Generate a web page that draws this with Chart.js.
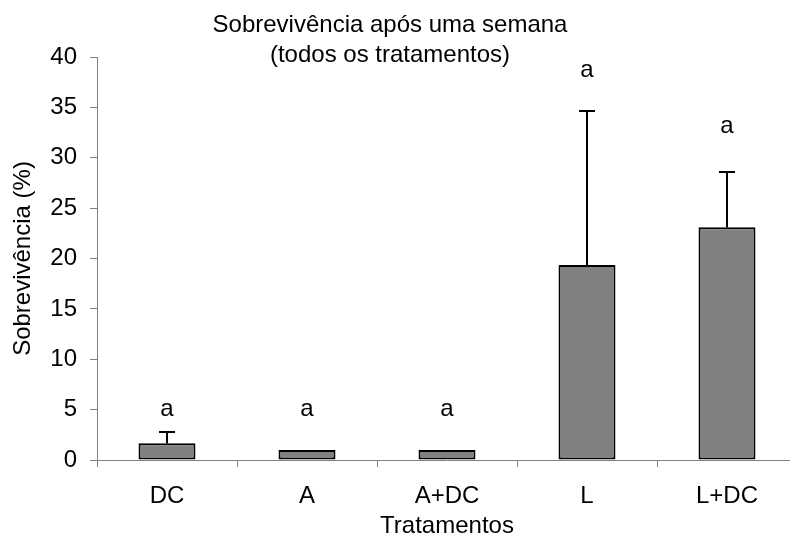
<!DOCTYPE html>
<html><head><meta charset="utf-8">
<script src="https://cdn.jsdelivr.net/npm/chart.js@4"></script>
<style>
html,body{margin:0;padding:0;overflow:hidden;background:#fff;width:790px;height:538px}
#wrap{width:800px;height:538px}
</style></head>
<body><div id="wrap"><canvas id="c" width="800" height="538"></canvas></div>
<script>
// ---- data ----
const categories = ['DC', 'A', 'A+DC', 'L', 'L+DC'];
const survivalMean = [1.66, 1.0, 1.0, 19.35, 23.1];
const survivalErrUp = [1.12, 0, 0, 15.25, 5.5];
const letters = ['a', 'a', 'a', 'a', 'a'];
const letterY = [5, 5, 5, 38.7, 33.1];
const yMin = 0, yMax = 40, yStep = 5;
const titleLines = ['Sobrevivência após uma semana', '(todos os tratamentos)'];
const xTitle = 'Tratamentos';
const yTitle = 'Sobrevivência (%)';

const FONT = '"Liberation Sans", Arial, sans-serif';

const errorBars = {
  id: 'errorBars',
  afterDatasetsDraw(chart) {
    const ctx = chart.ctx, ys = chart.scales.y;
    const meta = chart.getDatasetMeta(0);
    ctx.save();
    ctx.strokeStyle = '#000';
    ctx.lineWidth = 2;
    meta.data.forEach((bar, i) => {
      const e = survivalErrUp[i];
      if (!e) return;
      const x = Math.round(bar.x);
      const yTop = ys.getPixelForValue(survivalMean[i] + e);
      const yBase = ys.getPixelForValue(survivalMean[i]);
      ctx.beginPath();
      ctx.moveTo(x, yBase);
      ctx.lineTo(x, Math.round(yTop));
      ctx.moveTo(x - 8, Math.round(yTop));
      ctx.lineTo(x + 8, Math.round(yTop));
      ctx.stroke();
    });
    ctx.restore();
  }
};

const letterPlugin = {
  id: 'letters',
  afterDatasetsDraw(chart) {
    const ctx = chart.ctx, ys = chart.scales.y;
    const meta = chart.getDatasetMeta(0);
    ctx.save();
    ctx.fillStyle = '#000';
    ctx.font = '24px ' + FONT;
    ctx.textAlign = 'center';
    ctx.textBaseline = 'middle';
    meta.data.forEach((bar, i) => {
      ctx.fillText(letters[i], bar.x, ys.getPixelForValue(letterY[i]));
    });
    ctx.restore();
  }
};

const titlePlugin = {
  id: 'customTitle',
  afterDraw(chart) {
    const ctx = chart.ctx;
    ctx.save();
    ctx.fillStyle = '#000';
    ctx.font = '24px ' + FONT;
    ctx.textAlign = 'center';
    ctx.textBaseline = 'alphabetic';
    ctx.fillText(titleLines[0], 390, 32);
    ctx.fillText(titleLines[1], 390, 62);
    ctx.restore();
  }
};

new Chart(document.getElementById('c'), {
  type: 'bar',
  data: {
    labels: categories,
    datasets: [{
      data: survivalMean,
      backgroundColor: '#808080',
      borderColor: '#000',
      borderWidth: 2,
      borderSkipped: false,
      barPercentage: 0.407,
      categoryPercentage: 1
    }]
  },
  options: {
    responsive: false,
    animation: false,
    devicePixelRatio: 1,
    layout: { padding: { top: 57, left: 9, right: 3, bottom: 0 } },
    plugins: { legend: { display: false }, tooltip: { enabled: false }, title: { display: false } },
    scales: {
      x: {
        grid: { display: true, drawOnChartArea: false, drawTicks: true, tickLength: 7, color: '#808080', offset: true },
        border: { display: true, color: '#808080', width: 1 },
        ticks: { font: { family: FONT, size: 24 }, color: '#000', padding: 15, maxRotation: 0 },
        title: { display: true, text: xTitle, color: '#000', font: { family: FONT, size: 24, lineHeight: 1 }, padding: 0 },
        afterFit(s) { s.height = 78; }
      },
      y: {
        min: yMin, max: yMax,
        ticks: { stepSize: yStep, font: { family: FONT, size: 24 }, color: '#000', padding: 13 },
        grid: { display: true, drawOnChartArea: false, drawTicks: true, tickLength: 7, color: '#808080' },
        border: { display: true, color: '#808080', width: 1 },
        title: { display: true, text: yTitle, color: '#000', font: { family: FONT, size: 24, lineHeight: 1.2 }, padding: 0 },
        afterFit(s) { s.width = 88; }
      }
    }
  },
  plugins: [errorBars, letterPlugin, titlePlugin]
});
</script>
</body></html>
